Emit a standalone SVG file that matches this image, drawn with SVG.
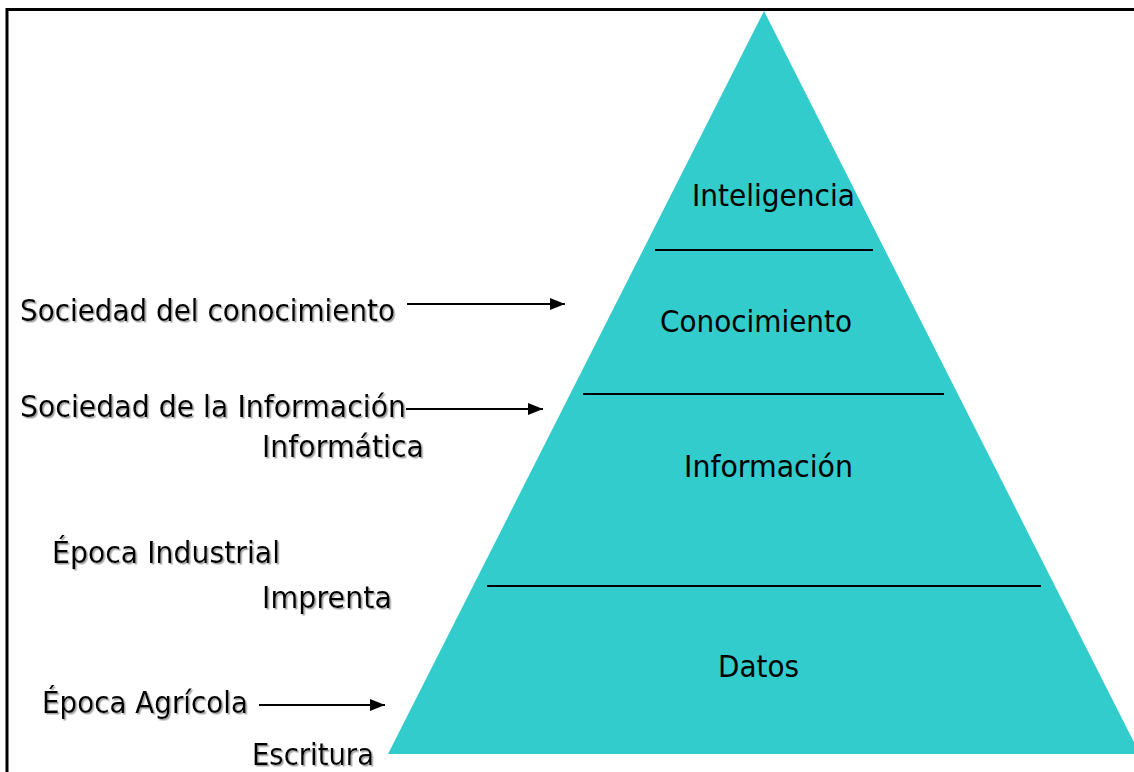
<svg xmlns="http://www.w3.org/2000/svg" width="1134" height="772" viewBox="0 0 1134 772">
<style>
text{font-family:"DejaVu Sans","Liberation Sans",sans-serif;font-size:30px;fill:#000}
.sh{filter:url(#ds)}
.ln{stroke:#000;stroke-width:2;fill:none}
.ar{stroke:#000;stroke-width:2;fill:none;marker-end:url(#ah)}
</style>
<defs>
<filter id="ds" x="-5%" y="-20%" width="110%" height="150%"><feDropShadow dx="1.5" dy="1.5" stdDeviation="0.6" flood-color="#999" flood-opacity="0.9"/></filter>
<marker id="ah" markerWidth="16" markerHeight="14" refX="15" refY="7" orient="auto" markerUnits="userSpaceOnUse"><path d="M0,1 L15,7 L0,13 Z" fill="#000"/></marker>
</defs>
<rect width="1134" height="772" fill="#fff"/>
<path d="M7,780 L7,9.5 L1140,9.5" fill="none" stroke="#000" stroke-width="3"/>
<g id="pyramid">
<polygon points="764,11 388,754 1140,754" fill="#33CCCC"/>
<line class="ln" x1="655" y1="250" x2="873" y2="250"/>
<line class="ln" x1="583" y1="394" x2="944" y2="394"/>
<line class="ln" x1="487" y1="586" x2="1041" y2="586"/>
</g>
<g id="level-inteligencia"><text x="692" y="206" textLength="163" lengthAdjust="spacingAndGlyphs">Inteligencia</text></g>
<g id="level-conocimiento"><text x="660" y="332" textLength="192" lengthAdjust="spacingAndGlyphs">Conocimiento</text></g>
<g id="level-informacion"><text x="684" y="477" textLength="169" lengthAdjust="spacingAndGlyphs">Información</text></g>
<g id="level-datos"><text x="718" y="677" textLength="81" lengthAdjust="spacingAndGlyphs">Datos</text></g>
<g id="label-sociedad-conocimiento"><text class="sh" x="20" y="321" textLength="375" lengthAdjust="spacingAndGlyphs">Sociedad del conocimiento</text></g>
<g id="label-sociedad-informacion"><text class="sh" x="20" y="417" textLength="386" lengthAdjust="spacingAndGlyphs">Sociedad de la Información</text></g>
<g id="label-informatica"><text class="sh" x="262" y="457" textLength="162" lengthAdjust="spacingAndGlyphs">Informática</text></g>
<g id="label-epoca-industrial"><text class="sh" x="52" y="563" textLength="228" lengthAdjust="spacingAndGlyphs">Época Industrial</text></g>
<g id="label-imprenta"><text class="sh" x="262" y="608" textLength="130" lengthAdjust="spacingAndGlyphs">Imprenta</text></g>
<g id="label-epoca-agricola"><text class="sh" x="42" y="713" textLength="206" lengthAdjust="spacingAndGlyphs">Época Agrícola</text></g>
<g id="label-escritura"><text class="sh" x="252" y="765" textLength="122" lengthAdjust="spacingAndGlyphs">Escritura</text></g>
<g id="connectors">
<line class="ar" x1="407" y1="304" x2="565" y2="304"/>
<line class="ar" x1="406" y1="409" x2="543" y2="409"/>
<line class="ar" x1="259" y1="705" x2="385" y2="705"/>
</g>
</svg>
